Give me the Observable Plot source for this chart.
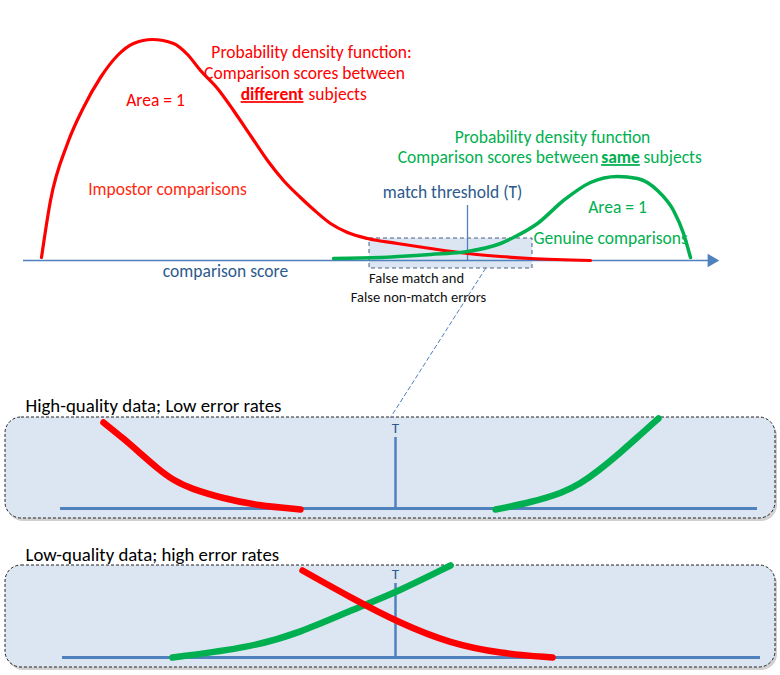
<!DOCTYPE html>
<html>
<head>
<meta charset="utf-8">
<script src="https://cdn.jsdelivr.net/npm/d3@7"></script>
<script src="https://cdn.jsdelivr.net/npm/@observablehq/plot@0.6"></script>
<style>
  html, body { margin: 0; padding: 0; background: #ffffff; }
  #chart svg { display: block; }
</style>
</head>
<body>
<div id="chart"></div>
<script>
// ---- Data (diagram units: x = comparison score position, y = drawing depth) ----
// Top chart: impostor (different subjects) density curve
const impostorX = [41, 50, 67, 83, 100, 117, 133, 152, 173, 187, 200, 217, 233, 250, 267, 283, 300, 313, 330, 347, 367, 397, 430, 467, 500, 530, 590];
const impostorY = [257, 200, 143, 107, 77, 55, 43, 39, 43, 54, 70, 88, 110, 135, 160, 180, 197, 209, 223, 232, 238, 243, 248, 253, 256, 258, 260];
// Top chart: genuine (same subjects) density curve
const genuineX = [333, 380, 430, 467, 500, 513, 537, 563, 590, 617, 637, 657, 673, 683, 690];
const genuineY = [258, 257, 254, 251, 243, 237, 223, 200, 182, 176, 178, 190, 210, 233, 257];
// Panel 1: high-quality data tails
const hqRedX = [103, 123, 140, 157, 173, 190, 223, 257, 300];
const hqRedY = [422, 438, 453, 468, 480, 488, 498, 505, 509];
const hqGreenX = [495, 530, 563, 580, 597, 620, 640, 658];
const hqGreenY = [509, 502, 492, 483, 471, 452, 434, 418];
// Panel 2: low-quality data tails
const lqGreenX = [172, 250, 300, 350, 400, 450];
const lqGreenY = [657, 647, 632, 610, 590, 565];
const lqRedX = [302, 350, 400, 450, 500, 552];
const lqRedY = [570, 597, 623, 643, 653, 657];

// Labels
const redTitle = ["Probability density function:", "Comparison scores between"];
const greenTitle = ["Probability density function"];
const panelTitles = ["High-quality data; Low error rates", "Low-quality data; high error rates"];
const errorLabels = ["False match and", "False non-match errors"];

const pts = (xs, ys) => xs.map((x, i) => ({x, y: ys[i]}));

const RED = "#ff0000", GREEN = "#00b050", AXIS = "#4f81bd", BLUE_TXT = "#2c5a8c";
const FONT = "Carlito, Calibri, Lato, sans-serif";
const FS = 17.5;
const panelBox = [{x1: 5, x2: 775, y1: 417, y2: 518}, {x1: 5, x2: 775, y1: 565, y2: 667}];

const txt = (t, o) => Plot.text([t], {text: d => d, fontFamily: FONT, ...o});
const curve = "monotone-x";

const svg = Plot.plot({
  width: 780, height: 675,
  margin: 0,
  x: {domain: [0, 780], range: [0, 780], axis: null},
  y: {domain: [0, 675], range: [0, 675], axis: null},
  style: {background: "white", fontFamily: FONT},
  marks: [
    // panel shadows and panels
    Plot.rect(panelBox, {x1: d => d.x1 + 2, x2: d => d.x2 + 2, y1: d => d.y1 + 3, y2: d => d.y2 + 3, rx: 16, fill: "#9a9a9a", fillOpacity: 0.45}),
    Plot.rect(panelBox, {x1: "x1", x2: "x2", y1: "y1", y2: "y2", rx: 16, fill: "#dce6f2", stroke: "#222", strokeWidth: 1, strokeDasharray: "3,2"}),
    // highlight box on top chart
    Plot.rect([{x1: 369, x2: 532, y1: 238, y2: 268}], {x1: "x1", x2: "x2", y1: "y1", y2: "y2", fill: "#dce6f2", stroke: "#4a5f80", strokeWidth: 1, strokeDasharray: "4,3"}),
    // zoom connector
    Plot.line(pts([485, 390], [268, 417]), {x: "x", y: "y", stroke: AXIS, strokeWidth: 1, strokeDasharray: "4,3"}),
    // top axis with arrowhead
    Plot.ruleY([260], {x1: 23, x2: 709, stroke: AXIS, strokeWidth: 1.3}),
    Plot.dot([{x: 711, y: 260}], {x: "x", y: "y", symbol: "triangle", rotate: 90, r: 5, fill: AXIS, stroke: "none"}),
    // threshold
    Plot.ruleX([467], {y1: 205, y2: 260, stroke: AXIS, strokeWidth: 1.3}),
    // density curves
    Plot.line(pts(impostorX, impostorY), {x: "x", y: "y", stroke: RED, strokeWidth: 3.2, curve}),
    Plot.line(pts(genuineX, genuineY), {x: "x", y: "y", stroke: GREEN, strokeWidth: 3.5, curve}),
    // panel baselines & thresholds
    Plot.ruleY([508], {x1: 60, x2: 757, stroke: AXIS, strokeWidth: 3}),
    Plot.ruleY([657], {x1: 62, x2: 760, stroke: AXIS, strokeWidth: 3}),
    Plot.ruleX([395], {y1: 437, y2: 508, stroke: AXIS, strokeWidth: 2.5}),
    Plot.ruleX([395], {y1: 583, y2: 657, stroke: AXIS, strokeWidth: 2.5}),
    // panel curves
    Plot.line(pts(hqRedX, hqRedY), {x: "x", y: "y", stroke: RED, strokeWidth: 6.5, curve: "basis"}),
    Plot.line(pts(hqGreenX, hqGreenY), {x: "x", y: "y", stroke: GREEN, strokeWidth: 6.5, curve: "basis"}),
    Plot.line(pts(lqGreenX, lqGreenY), {x: "x", y: "y", stroke: GREEN, strokeWidth: 6.5, curve: "basis"}),
    Plot.line(pts(lqRedX, lqRedY), {x: "x", y: "y", stroke: RED, strokeWidth: 6.5, curve: "basis"}),
    // red labels
    txt(redTitle[0], {x: 311, y: 52, fill: RED, fontSize: FS}),
    txt(redTitle[1], {x: 304, y: 73, fill: RED, fontSize: FS}),
    txt("different", {x: 303, y: 94, fill: RED, fontSize: FS, fontWeight: "bold", textAnchor: "end"}),
    txt("subjects", {x: 308, y: 94, fill: RED, fontSize: FS, textAnchor: "start"}),
    txt("Area = 1", {x: 155, y: 100, fill: RED, fontSize: FS}),
    txt("Impostor comparisons", {x: 167, y: 189, fill: "#ff2a10", fontSize: FS}),
    // green labels
    txt(greenTitle[0], {x: 552, y: 137, fill: GREEN, fontSize: FS}),
    txt("Comparison scores between", {x: 598, y: 157, fill: GREEN, fontSize: FS, textAnchor: "end"}),
    txt("same", {x: 620, y: 157, fill: GREEN, fontSize: FS, fontWeight: "bold"}),
    txt("subjects", {x: 643, y: 157, fill: GREEN, fontSize: FS, textAnchor: "start"}),
    txt("Area = 1", {x: 617, y: 207, fill: GREEN, fontSize: FS}),
    txt("Genuine comparisons", {x: 533, y: 238, fill: GREEN, fontSize: FS, textAnchor: "start"}),
    // blue labels
    txt("match threshold (T)", {x: 452, y: 192, fill: BLUE_TXT, fontSize: FS}),
    txt("comparison score", {x: 225, y: 271, fill: BLUE_TXT, fontSize: FS}),
    // error labels
    txt(errorLabels[0], {x: 416, y: 278, fill: "#111", fontSize: 14.5}),
    txt(errorLabels[1], {x: 418, y: 297, fill: "#111", fontSize: 14.5}),
    // panel titles
    txt(panelTitles[0], {x: 25, y: 405, fill: "#000", fontSize: 18.8, textAnchor: "start"}),
    txt(panelTitles[1], {x: 25, y: 554, fill: "#000", fontSize: 18.8, textAnchor: "start"}),
    txt("T", {x: 395, y: 428, fill: BLUE_TXT, fontSize: 15}),
    txt("T", {x: 395, y: 574, fill: BLUE_TXT, fontSize: 15})
  ]
});

d3.select(svg).selectAll("text")
  .filter(function() { return this.textContent === "different" || this.textContent === "same"; })
  .attr("text-decoration", "underline");

document.getElementById("chart").appendChild(svg);
</script>
</body>
</html>
